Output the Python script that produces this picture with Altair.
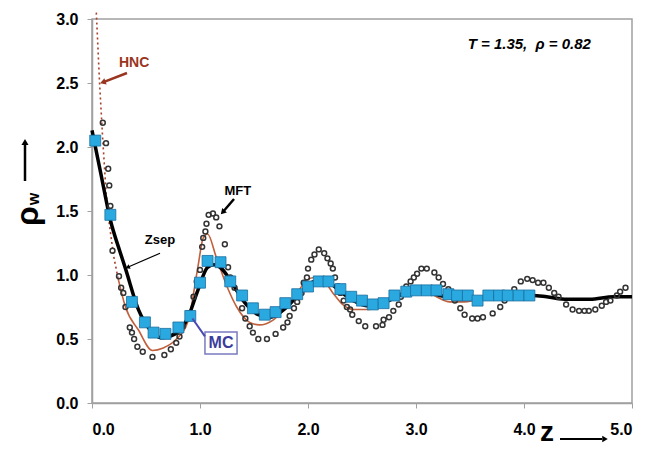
import altair as alt
import pandas as pd

# ---- data ----
mc_z = [0.03, 0.17, 0.37, 0.49, 0.57, 0.68, 0.80, 0.91, 1.00, 1.07, 1.19, 1.28, 1.39, 1.49,
        1.60, 1.70, 1.79, 1.90, 2.00, 2.10, 2.19, 2.30, 2.40, 2.50, 2.60, 2.70, 2.80, 2.91,
        3.00, 3.10, 3.19, 3.30, 3.38, 3.48, 3.57, 3.67, 3.77, 3.85, 3.95, 4.05]
mc_rho = [2.05, 1.47, 0.79, 0.63, 0.55, 0.54, 0.59, 0.68, 0.94, 1.11, 1.10, 0.95, 0.84, 0.74,
          0.69, 0.71, 0.78, 0.85, 0.91, 0.95, 0.95, 0.89, 0.83, 0.80, 0.77, 0.78, 0.84, 0.87,
          0.88, 0.88, 0.88, 0.85, 0.84, 0.84, 0.80, 0.84, 0.84, 0.84, 0.84, 0.84]

mft_z = [0.10, 0.13, 0.15, 0.16, 0.17, 0.19, 0.25, 0.27, 0.29, 0.31, 0.35, 0.37, 0.39, 0.42,
         0.47, 0.56, 0.67, 0.73, 0.78, 0.81, 0.84, 0.89, 0.94, 0.97, 1.00, 1.02, 1.03, 1.05,
         1.06, 1.08, 1.12, 1.15, 1.18, 1.23, 1.26, 1.28, 1.32, 1.39, 1.42, 1.46, 1.49, 1.54,
         1.62, 1.70, 1.77, 1.81, 1.83, 1.87, 1.90, 1.94, 1.96, 1.99, 2.00, 2.03, 2.06, 2.10,
         2.15, 2.18, 2.21, 2.23, 2.25, 2.28, 2.30, 2.33, 2.36, 2.39, 2.41, 2.47, 2.53, 2.63,
         2.69, 2.70, 2.75, 2.79, 2.84, 2.86, 2.91, 2.95, 2.98, 3.01, 3.05, 3.10, 3.17, 3.21,
         3.25, 3.30, 3.36, 3.41, 3.45, 3.52, 3.57, 3.62, 3.71, 3.78, 3.82, 3.85, 3.91, 3.97,
         4.03, 4.08, 4.13, 4.18, 4.23, 4.28, 4.32, 4.39, 4.45, 4.51, 4.56, 4.60, 4.66, 4.72,
         4.76, 4.80, 4.86, 4.89, 4.94]
mft_rho = [2.19, 2.03, 1.83, 1.70, 1.54, 1.19, 0.99, 0.90, 0.86, 0.75, 0.59, 0.55, 0.50, 0.44,
           0.40, 0.36, 0.375, 0.42, 0.47, 0.52, 0.60, 0.70, 0.83, 0.95, 1.04, 1.22, 1.29, 1.34,
           1.40, 1.47, 1.48, 1.45, 1.38, 1.24, 1.06, 0.98, 0.90, 0.74, 0.66, 0.60, 0.55, 0.50,
           0.50, 0.54, 0.59, 0.63, 0.68, 0.74, 0.79, 0.86, 0.94, 0.98, 1.05, 1.12, 1.16, 1.20,
           1.17, 1.13, 1.09, 1.05, 0.98, 0.91, 0.86, 0.80, 0.75, 0.73, 0.69, 0.64, 0.60, 0.60,
           0.61, 0.65, 0.67, 0.72, 0.77, 0.83, 0.91, 0.95, 0.98, 1.01, 1.05, 1.05, 1.02, 0.98,
           0.93, 0.89, 0.80, 0.74, 0.69, 0.66, 0.66, 0.67, 0.70, 0.75, 0.80, 0.83, 0.89, 0.95,
           0.97, 0.96, 0.94, 0.94, 0.90, 0.86, 0.83, 0.77, 0.73, 0.72, 0.72, 0.72, 0.73, 0.76,
           0.79, 0.80, 0.84, 0.87, 0.90]

zsep_z = [0.00, 0.08, 0.17, 0.26, 0.31, 0.43, 0.54, 0.64, 0.77, 0.89, 0.98, 1.07, 1.13, 1.20,
          1.28, 1.40, 1.54, 1.65, 1.79, 1.93, 2.06, 2.17, 2.30, 2.42, 2.54, 2.69, 2.91, 3.07,
          3.22, 3.38, 3.59, 3.80, 4.08, 4.21, 4.40, 4.61, 4.83, 5.00]
zsep_rho = [2.13, 1.80, 1.43, 1.18, 1.05, 0.73, 0.57, 0.51, 0.54, 0.67, 0.88, 1.06, 1.08, 1.05,
            0.96, 0.80, 0.69, 0.67, 0.74, 0.86, 0.95, 0.95, 0.87, 0.80, 0.76, 0.78, 0.86, 0.875,
            0.84, 0.82, 0.82, 0.84, 0.84, 0.83, 0.81, 0.81, 0.83, 0.83]

hnc_dot_z = [0.04, 0.07, 0.10, 0.13, 0.16, 0.20, 0.24]
hnc_dot_rho = [3.05, 2.50, 2.05, 1.65, 1.40, 1.15, 0.98]

hnc_z = [0.24, 0.31, 0.43, 0.56, 0.66, 0.77, 0.89, 0.98, 1.03, 1.07, 1.15, 1.25, 1.34, 1.46,
         1.55, 1.68, 1.80, 1.90, 1.99, 2.06, 2.14, 2.23, 2.32, 2.42, 2.55, 2.69, 2.88, 3.04,
         3.19, 3.31, 3.45, 3.60]
hnc_rho = [0.98, 0.75, 0.57, 0.41, 0.43, 0.49, 0.64, 1.06, 1.29, 1.32, 1.14, 0.91, 0.75, 0.63,
           0.61, 0.65, 0.75, 0.86, 0.96, 0.98, 0.96, 0.86, 0.77, 0.73, 0.73, 0.78, 0.87, 0.90,
           0.83, 0.79, 0.79, 0.82]

x_ticks = [0, 1, 2, 3, 4, 5]
y_ticks = [0, 0.5, 1.0, 1.5, 2.0, 2.5, 3.0]

FONT = "Liberation Sans"
GRAY = "#a0a0a0"

mc = pd.DataFrame({"z": mc_z, "rho": mc_rho})
mft = pd.DataFrame({"z": mft_z, "rho": mft_rho})
zsep = pd.DataFrame({"z": zsep_z, "rho": zsep_rho})
hnc_dot = pd.DataFrame({"z": hnc_dot_z, "rho": hnc_dot_rho})
hnc = pd.DataFrame({"z": hnc_z, "rho": hnc_rho})

xs = alt.Scale(domain=[0, 5], nice=False, zero=False)
ys = alt.Scale(domain=[0, 3], nice=False, zero=False)
xaxis = alt.Axis(values=x_ticks, format=".1f", title=None, grid=False, labelFont=FONT,
                 labelFontWeight="bold", labelFontSize=16, labelColor="black",
                 domainColor=GRAY, tickColor=GRAY, tickSize=5, labelPadding=13,
                 domainWidth=1.5)
yaxis = alt.Axis(values=y_ticks, format=".1f", title=None, grid=False, labelFont=FONT,
                 labelFontWeight="bold", labelFontSize=16, labelColor="black",
                 domainColor=GRAY, tickColor=GRAY, tickSize=5, labelPadding=9,
                 domainWidth=1.5)

X = alt.X("z:Q", scale=xs, axis=xaxis)
Y = alt.Y("rho:Q", scale=ys, axis=yaxis)

base_layers = []
base_layers.append(alt.Chart(hnc_dot).mark_line(color="#a8402a", strokeWidth=1.6,
                                                 strokeDash=[2, 3]).encode(x=X, y=Y))
base_layers.append(alt.Chart(hnc).mark_line(color="#c0603c", strokeWidth=1.6,
                                             interpolate="monotone").encode(x=X, y=Y))
base_layers.append(alt.Chart(zsep).mark_line(color="black", strokeWidth=3.5,
                                              interpolate="monotone").encode(x=X, y=Y))
base_layers.append(alt.Chart(mft).mark_point(shape="circle", filled=False, color="#333333",
                                              size=24, strokeWidth=1.5, opacity=1).encode(x=X, y=Y))
base_layers.append(alt.Chart(mc).mark_square(color="#2aa8e0", stroke="#1a6fa0", strokeWidth=0.8,
                                              size=120, opacity=1).encode(x=X, y=Y))


def txt(z, rho, label, color, size, align="center", italic=False):
    d = pd.DataFrame({"z": [z], "rho": [rho], "t": [label]})
    return alt.Chart(d).mark_text(font=FONT, fontWeight="bold", fontSize=size, color=color,
                                  align=align, baseline="middle",
                                  fontStyle="italic" if italic else "normal").encode(
        x=alt.X("z:Q", scale=xs), y=alt.Y("rho:Q", scale=ys), text="t:N")


def arrow(z1, r1, z2, r2, color, width, head_angle, head_size):
    d = pd.DataFrame({"z": [z1], "rho": [r1], "z2": [z2], "rho2": [r2]})
    line = alt.Chart(d).mark_rule(color=color, strokeWidth=width).encode(
        x=alt.X("z:Q", scale=xs), y=alt.Y("rho:Q", scale=ys), x2="z2:Q", y2="rho2:Q")
    h = pd.DataFrame({"z": [z2], "rho": [r2]})
    head = alt.Chart(h).mark_point(shape="triangle-up", filled=True, color=color, size=head_size,
                                   angle=head_angle, opacity=1).encode(
        x=alt.X("z:Q", scale=xs), y=alt.Y("rho:Q", scale=ys))
    return line + head


ann = []
# HNC
ann.append(txt(0.39, 2.66, "HNC", "#9a3520", 14))
ann.append(arrow(0.324, 2.578, 0.10, 2.505, "#9a3520", 2.5, 250, 45))
# MFT
ann.append(txt(1.35, 1.66, "MFT", "black", 13))
ann.append(arrow(1.315, 1.594, 1.21, 1.49, "black", 2.5, 223, 40))
# Zsep
ann.append(txt(0.63, 1.27, "Zsep", "black", 13))
ann.append(arrow(0.63, 1.17, 0.33, 1.06, "black", 1.2, 246, 25))
# MC box
mcbox = pd.DataFrame({"z": [1.046], "rho": [0.555], "z2": [1.343], "rho2": [0.383]})
ann.append(alt.Chart(mcbox).mark_rect(fill="white", stroke="#7a7ac0", strokeWidth=1.5).encode(
    x=alt.X("z:Q", scale=xs), y=alt.Y("rho:Q", scale=ys), x2="z2:Q", y2="rho2:Q"))
mcline = pd.DataFrame({"z": [1.046], "rho": [0.52], "z2": [0.93], "rho2": [0.66]})
ann.append(alt.Chart(mcline).mark_rule(color="#4a4ab0", strokeWidth=2).encode(
    x=alt.X("z:Q", scale=xs), y=alt.Y("rho:Q", scale=ys), x2="z2:Q", y2="rho2:Q"))
ann.append(txt(1.195, 0.468, "MC", "#3c3c9c", 16))
# state label
ann.append(txt(4.62, 2.805, "T = 1.35,\u00a0 ρ = 0.82", "black", 15, align="right", italic=True))

# axis titles with arrows (pixel positions relative to plot area)
one = pd.DataFrame({"a": [0]})
ann.append(alt.Chart(one).mark_text(text="ρ", font=FONT, fontWeight="bold", fontSize=32,
                                    angle=270, color="black", align="center",
                                    baseline="middle").encode(x=alt.value(-64), y=alt.value(197)))
ann.append(alt.Chart(one).mark_text(text="w", font=FONT, fontWeight="bold", fontSize=16,
                                    angle=270, color="black", align="center",
                                    baseline="middle").encode(x=alt.value(-58), y=alt.value(180)))
ann.append(alt.Chart(one).mark_rule(color="black", strokeWidth=2.5).encode(
    x=alt.value(-67), y=alt.value(162), y2=alt.value(126)))
ann.append(alt.Chart(one).mark_point(shape="triangle-up", filled=True, color="black", size=50,
                                     opacity=1).encode(x=alt.value(-67), y=alt.value(123)))
ann.append(alt.Chart(one).mark_text(text="z", font=FONT, fontWeight="bold", fontSize=28,
                                    color="black", align="center",
                                    baseline="middle").encode(x=alt.value(455), y=alt.value(414)))
ann.append(alt.Chart(one).mark_rule(color="black", strokeWidth=2).encode(
    x=alt.value(468), x2=alt.value(510), y=alt.value(420)))
ann.append(alt.Chart(one).mark_point(shape="triangle-right", filled=True, color="black", size=40,
                                     opacity=1).encode(x=alt.value(513), y=alt.value(420)))

chart = alt.layer(*base_layers, *ann).properties(
    width=540, height=384,
    autosize=alt.AutoSizeParams(type="none"),
    padding={"left": 84, "top": 11, "right": 8, "bottom": 46},
    background="white",
).configure_view(stroke=GRAY, strokeWidth=1.5)

chart.save("out.html", embed_options={"renderer": "svg", "actions": False})
